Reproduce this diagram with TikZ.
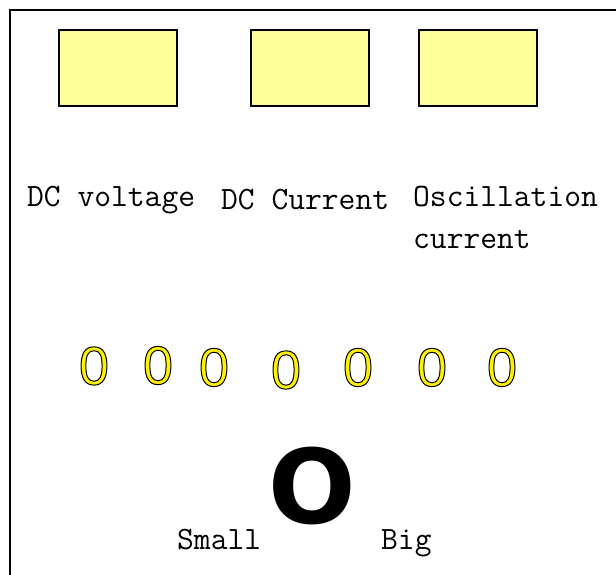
\documentclass[tikz,border=0pt]{standalone}
\usepackage{fontspec}
\newfontfamily\policesans{Liberation Sans}
\newfontfamily\policegrasse{DejaVu Sans}
\definecolor{jaunepale}{HTML}{FFFF99}
% chiffre jaune cerne de noir
\newcommand\chiffrecerne[1]{{\color{yellow}\special{pdf:literal 2 Tr 0 0 0 RG 1 w}#1\special{pdf:literal 0 Tr 0.4 w}}}
\begin{document}
\begin{tikzpicture}[x=1pt,y=-1pt]
	\tikzstyle{cadre}=[line width=2pt]
	\tikzstyle{case}=[draw=black,line width=1.8pt,fill=jaunepale,minimum width=118.5pt,minimum height=76.5pt,inner sep=0pt]
	\tikzstyle{legende}=[anchor=base west,inner sep=0pt,align=left,font=\ttfamily\fontsize{32.6}{42}\selectfont]
	\tikzstyle{zero}=[inner sep=0pt,font=\policesans\fontsize{54}{54}\selectfont]
	\tikzstyle{grand}=[inner sep=0pt,font=\policegrasse\bfseries\fontsize{103}{103}\selectfont]
	
	\def\NiveauCases{68}
	\def\NiveauZeros{367.5}
	\def\NiveauBas{549}
	
	\useasboundingbox (0,0) rectangle (616,575);
	\draw[cadre] (10,576) -- (10,10) -- (617,10);
	
	\node[case] (Ca) at (118,\NiveauCases) {};
	\node[case] (Cb) at (310,\NiveauCases) {};
	\node[case] (Cc) at (478,\NiveauCases) {};
	
	\node[legende] (La) at (27,206) {DC voltage};
	\node[legende] (Lb) at (221,209) {DC Current};
	\node[legende] (Lc) at (413,248) {Oscillation\\current};
	
	\node[grand] (O) at (312,486) {O};
	\node[legende] (Petit) at (177,\NiveauBas) {Small};
	\node[legende] (Gros) at (381,\NiveauBas) {Big};
	
	\node[zero] (Za) at (94,366) {\chiffrecerne{0}};
	\node[zero] (Zb) at (158,365.5) {\chiffrecerne{0}};
	\node[zero] (Zc) at (214,\NiveauZeros) {\chiffrecerne{0}};
	\node[zero] (Zd) at (286,370) {\chiffrecerne{0}};
	\node[zero] (Ze) at (358,\NiveauZeros) {\chiffrecerne{0}};
	\node[zero] (Zf) at (432,\NiveauZeros) {\chiffrecerne{0}};
	\node[zero] (Zg) at (502,\NiveauZeros) {\chiffrecerne{0}};
\end{tikzpicture}
\end{document}
